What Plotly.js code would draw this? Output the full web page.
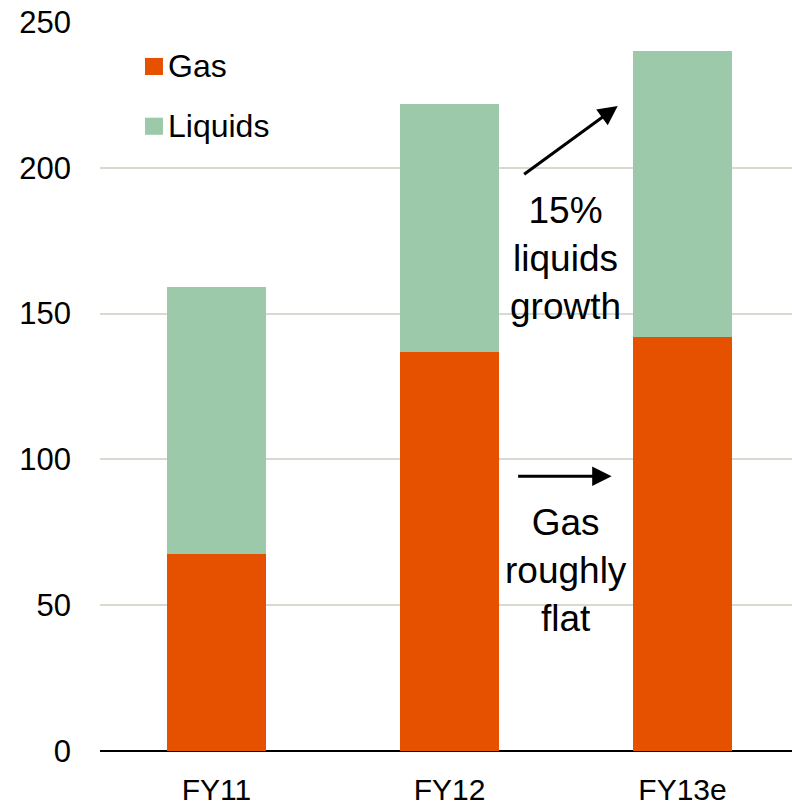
<!DOCTYPE html>
<html>
<head>
<meta charset="utf-8">
<script src="https://cdn.plot.ly/plotly-3.0.1.min.js"></script>
<style>
  html, body { margin: 0; padding: 0; background: #fff; }
  #chart { width: 792px; height: 805px; }
</style>
</head>
<body>
<div id="chart"></div>
<script>
// categories and stacked values
const years = ['FY11', 'FY12', 'FY13e'];
const gas = [67.4, 137, 142];
const liquids = [91.6, 85, 98];
const seriesNames = ['Gas', 'Liquids'];
const seriesColors = ['#E65100', '#9BC9A9'];

const FONT = 'Liberation Sans, Arial, sans-serif';

const traces = [
    {
        x: years, y: gas, type: 'bar', name: seriesNames[0],
        marker: { color: seriesColors[0] }, hoverinfo: 'skip'
    },
    {
        x: years, y: liquids, type: 'bar', name: seriesNames[1],
        marker: { color: seriesColors[1] }, hoverinfo: 'skip'
    }
];

// legend drawn by hand so the swatches are as big as in the original
const legendRows = [0.939, 0.857];
const legendShapes = seriesNames.map((n, i) => ({
    type: 'rect', xref: 'paper', yref: 'paper', layer: 'above',
    x0: 0.065, x1: 0.091,
    y0: legendRows[i] - 0.0117, y1: legendRows[i] + 0.0117,
    fillcolor: seriesColors[i], line: { width: 0 }
}));
const legendLabels = seriesNames.map((n, i) => ({
    xref: 'paper', yref: 'paper', x: 0.095, y: legendRows[i],
    xanchor: 'left', yanchor: 'middle', showarrow: false,
    text: n, font: { size: 32, family: FONT, color: '#000' }
}));

const layout = {
    width: 792, height: 805,
    margin: { l: 100, r: 0, t: 22, b: 54 },
    paper_bgcolor: '#fff', plot_bgcolor: '#fff',
    font: { family: FONT, color: '#000', size: 30 },
    barmode: 'stack',
    bargap: 0.571,
    showlegend: false,
    xaxis: {
        range: [-0.5, 2.47],
        showgrid: false, zeroline: false,
        showline: false, ticks: '',
        ticklabelstandoff: 18,
        tickfont: { size: 30 }
    },
    yaxis: {
        range: [0, 250], dtick: 50,
        showgrid: true, gridcolor: '#D9D9CF', gridwidth: 2,
        zeroline: true, zerolinecolor: '#000', zerolinewidth: 2,
        ticks: '', ticklabelstandoff: 28,
        tickfont: { size: 31 }
    },
    shapes: legendShapes,
    annotations: legendLabels.concat([
        {
            x: 1.722, y: 221.2, ax: 1.314, ay: 197.4,
            xref: 'x', yref: 'y', axref: 'x', ayref: 'y',
            showarrow: true, arrowhead: 2, arrowsize: 1.3, arrowwidth: 3,
            arrowcolor: '#000', text: ''
        },
        {
            x: 1.696, y: 94.2, ax: 1.288, ay: 94.2,
            xref: 'x', yref: 'y', axref: 'x', ayref: 'y',
            showarrow: true, arrowhead: 2, arrowsize: 1.3, arrowwidth: 3,
            arrowcolor: '#000', text: ''
        },
        {
            x: 1.5, y: 169, xref: 'x', yref: 'y', showarrow: false,
            text: '15%<br>liquids<br>growth', align: 'center',
            font: { size: 37, family: FONT, color: '#000' }
        },
        {
            x: 1.5, y: 62, xref: 'x', yref: 'y', showarrow: false,
            text: 'Gas<br>roughly<br>flat', align: 'center',
            font: { size: 37, family: FONT, color: '#000' }
        }
    ])
};

Plotly.newPlot('chart', traces, layout, { staticPlot: true, displayModeBar: false });
</script>
</body>
</html>
